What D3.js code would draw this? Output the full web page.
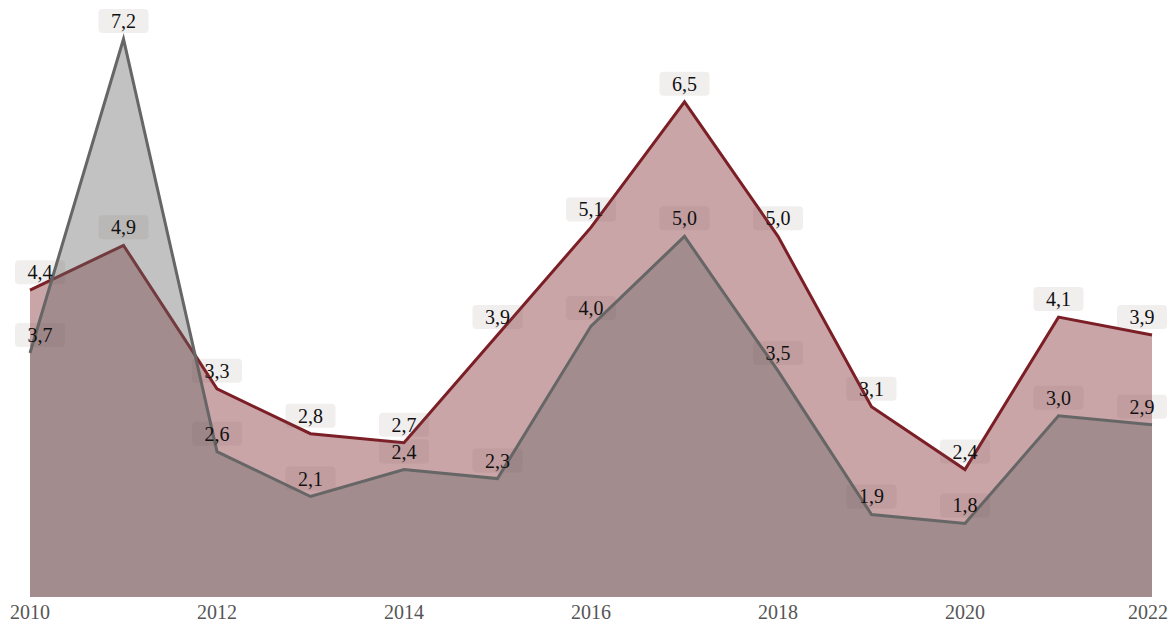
<!DOCTYPE html>
<html>
<head>
<meta charset="utf-8">
<script src="https://cdn.jsdelivr.net/npm/d3@7"></script>
<style>
  html, body { margin: 0; padding: 0; background: #fff; }
  svg { display: block; font-family: "Liberation Serif", "Times New Roman", serif; }
</style>
</head>
<body>
<div id="chart"></div>
<script>
// 데이터
const years = [2010, 2011, 2012, 2013, 2014, 2015, 2016, 2017, 2018, 2019, 2020, 2021, 2022];
const redValues = [4.4, 4.9, 3.3, 2.8, 2.7, 3.9, 5.1, 6.5, 5.0, 3.1, 2.4, 4.1, 3.9];
const grayValues = [3.7, 7.2, 2.6, 2.1, 2.4, 2.3, 4.0, 5.0, 3.5, 1.9, 1.8, 3.0, 2.9];
const tickYears = [2010, 2012, 2014, 2016, 2018, 2020, 2022];

const width = 1173, height = 623;

const svg = d3.select("#chart")
  .append("svg")
  .attr("width", width)
  .attr("height", height);

const x = d3.scaleLinear().domain([2010, 2022]).range([30, 1152]);
const y = d3.scaleLinear().domain([0.98, 7.2]).range([597, 39]);

const series = [
  {name: "red", values: redValues, line: "#7b1e25"},
  {name: "gray", values: grayValues, line: "#666666"}
];

const area = d3.area()
  .x(d => x(d.year))
  .y0(y(0.98))
  .y1(d => y(d.value));

const line = d3.line()
  .x(d => x(d.year))
  .y(d => y(d.value));

// 영역 + 선
series.forEach(s => {
  const pts = years.map((yr, i) => ({year: yr, value: s.values[i]}));
  svg.append("path")
    .datum(pts)
    .attr("d", area)
    .attr("fill", s.line)
    .attr("fill-opacity", 0.4);
  svg.append("path")
    .datum(pts)
    .attr("d", line)
    .attr("fill", "none")
    .attr("stroke", s.line)
    .attr("stroke-width", 3)
    .attr("stroke-linejoin", "miter");
});

// 값 라벨
const fmt = v => d3.format(".1f")(v).replace(".", ",");
const boxW = 50, boxH = 24;

series.forEach(s => {
  const g = svg.append("g");
  years.forEach((yr, i) => {
    let cx = x(yr);
    cx = Math.max(15 + boxW / 2, Math.min(1167 - boxW / 2, cx));
    const cy = y(s.values[i]) - 18;
    g.append("rect")
      .attr("x", cx - boxW / 2)
      .attr("y", cy - boxH / 2)
      .attr("width", boxW)
      .attr("height", boxH)
      .attr("rx", 4)
      .attr("fill", "rgb(120,90,90)")
      .attr("fill-opacity", 0.1);
    g.append("text")
      .attr("x", cx)
      .attr("y", cy)
      .attr("dy", "0.35em")
      .attr("text-anchor", "middle")
      .attr("font-size", 20)
      .attr("fill", "#111")
      .text(fmt(s.values[i]));
  });
});

// x축 라벨
svg.append("g")
  .selectAll("text")
  .data(tickYears)
  .join("text")
  .attr("x", d => Math.min(x(d), 1148))
  .attr("y", 612)
  .attr("dy", "0.35em")
  .attr("text-anchor", "middle")
  .attr("font-size", 20)
  .attr("fill", "#555")
  .text(d => d);
</script>
</body>
</html>
